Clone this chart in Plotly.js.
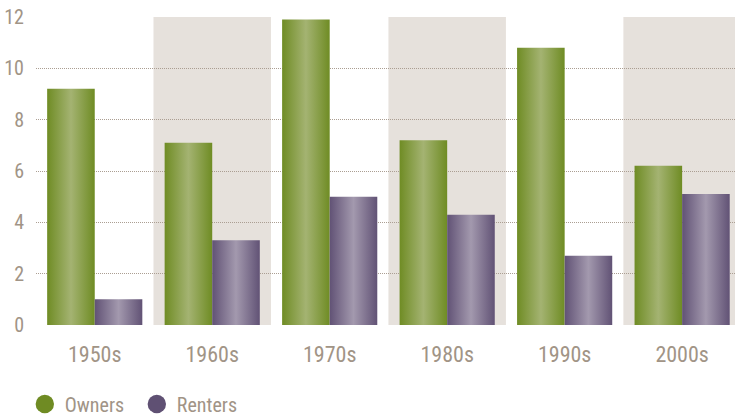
<!DOCTYPE html>
<html><head><meta charset="utf-8">
<script src="https://cdn.plot.ly/plotly-3.0.1.min.js"></script>
<style>html,body{margin:0;padding:0;background:#fff;}#chart{width:735px;height:417px;}</style>
</head><body><div id="chart"></div>
<script>
const decades = ['1950s','1960s','1970s','1980s','1990s','2000s'];
const owners  = [9.2, 7.1, 11.9, 7.2, 10.8, 6.2];
const renters = [1.0, 3.3, 5.0, 4.3, 2.7, 5.1];
const shadedDecades = ['1960s','1980s','2000s'];

const FONT = '"Liberation Sans Narrow","Arial Narrow","Roboto Condensed",sans-serif';
const TXT = '#a19486';

const traces = [
  {type:'bar', x:decades, y:owners, name:'Owners', marker:{color:'#7a962e'}, showlegend:false, hoverinfo:'none'},
  {type:'bar', x:decades, y:renters, name:'Renters', marker:{color:'#6b5e7e'}, showlegend:false, hoverinfo:'none'},
  {type:'scatter', mode:'markers', x:[null], y:[null], name:'Owners', marker:{color:'#6f8b23', size:18, symbol:'circle'}},
  {type:'scatter', mode:'markers', x:[null], y:[null], name:'Renters', marker:{color:'#5f5073', size:18, symbol:'circle'}}
];

const shapes = shadedDecades.map(d => {
  const i = decades.indexOf(d);
  return {type:'rect', xref:'x', yref:'y', x0:i-0.5, x1:i+0.5, y0:0, y1:12,
          fillcolor:'#e6e1dc', line:{width:0}, layer:'below'};
});

const layout = {
  width:735, height:417,
  margin:{l:36, r:0, t:17, b:92, autoexpand:false},
  paper_bgcolor:'#fff', plot_bgcolor:'rgba(0,0,0,0)',
  barmode:'group', bargap:0.19, bargroupgap:0,
  font:{family:FONT, color:TXT, size:20},
  xaxis:{type:'category', range:[-0.5,5.45], showgrid:false, zeroline:false, showline:false,
         ticks:'', ticklabelstandoff:14, tickfont:{family:FONT, size:22, color:TXT}, fixedrange:true},
  yaxis:{range:[0,12], dtick:2, showgrid:true, gridcolor:'#ab9e92', griddash:'1px,1px', gridwidth:1,
         zeroline:false, showline:false, ticks:'', ticklabelstandoff:11,
         tickfont:{family:FONT, size:20, color:TXT}, fixedrange:true},
  shapes:shapes,
  showlegend:true,
  legend:{orientation:'h', x:-0.016, xanchor:'left', yref:'container', y:0.031, yanchor:'middle',
          font:{family:FONT, size:20, color:TXT}, itemsizing:'trace', traceorder:'normal',
          entrywidth:67, entrywidthmode:'pixels', bgcolor:'rgba(0,0,0,0)'},
  hovermode:false
};

Plotly.newPlot('chart', traces, layout, {displayModeBar:false, staticPlot:true}).then(gd => {
  const svg = gd.querySelector('svg.main-svg');
  const ns = 'http://www.w3.org/2000/svg';
  let defs = svg.querySelector('defs');
  if (!defs) { defs = document.createElementNS(ns,'defs'); svg.insertBefore(defs, svg.firstChild); }
  function grad(id, edge, mid) {
    const g = document.createElementNS(ns,'linearGradient');
    g.setAttribute('id', id);
    g.setAttribute('x1','0'); g.setAttribute('x2','1'); g.setAttribute('y1','0'); g.setAttribute('y2','0');
    [[0,edge],[0.5,mid],[1,edge]].forEach(([o,c]) => {
      const s = document.createElementNS(ns,'stop');
      s.setAttribute('offset', o); s.setAttribute('stop-color', c);
      g.appendChild(s);
    });
    defs.appendChild(g);
  }
  grad('gOwn', '#6f8c24', '#a4b372');
  grad('gRent', '#615275', '#a399ae');
  const tr = gd.querySelectorAll('.barlayer .trace');
  const ids = ['gOwn','gRent'];
  tr.forEach((t, k) => {
    t.querySelectorAll('path').forEach(p => { p.style.fill = 'url(#' + ids[k] + ')'; });
  });
  gd.querySelectorAll('.legend .legendpoints path.scatterpts').forEach(p => {
    const t = p.getAttribute('transform') || '';
    p.setAttribute('transform', t + ' scale(1.15)');
  });
});
</script>
</body></html>
